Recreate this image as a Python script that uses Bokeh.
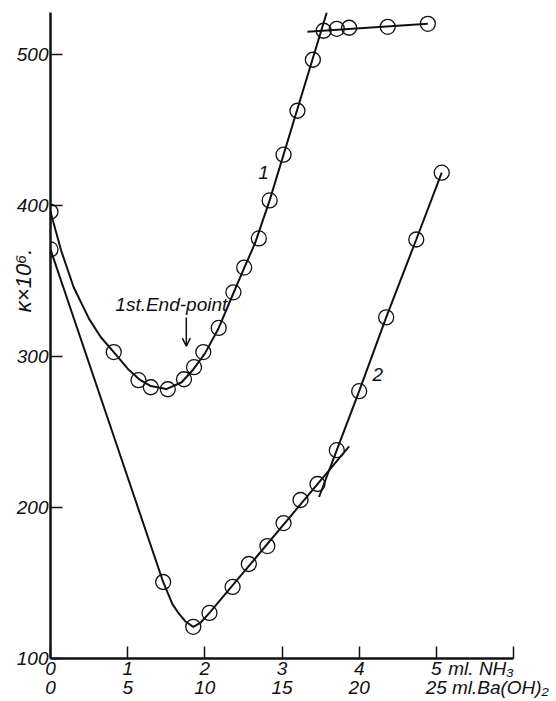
from bokeh.plotting import figure
from bokeh.models import Range1d, LinearAxis, FixedTicker, Label, Arrow, OpenHead
from bokeh.embed import file_html
from bokeh.resources import INLINE

# ---- data (x in ml NH3; 1 ml NH3 = 5 ml Ba(OH)2) ----
nh3_1 = [0.0, 0.82, 1.14, 1.30, 1.52, 1.73, 1.86, 1.98, 2.18, 2.37, 2.51, 2.70,
         2.84, 3.02, 3.20, 3.40, 3.54, 3.71, 3.87, 4.37, 4.89]
kappa_1 = [396, 303, 284.4, 279.7, 278.4, 285, 293, 303, 319, 342.6, 359, 378.3,
           403.5, 433.8, 462.9, 496.7, 515.9, 517.2, 517.9, 518.5, 520.5]

nh3_2 = [0.0, 1.46, 1.85, 2.06, 2.36, 2.57, 2.81, 3.02, 3.24, 3.46, 3.71, 4.00,
         4.35, 4.74, 5.07]
kappa_2 = [371, 150.7, 121.0, 130.2, 147.4, 162.6, 174.5, 189.7, 205.0, 215.6,
           238.0, 277.1, 326.0, 377.6, 421.9]

# drawn curves
curve1_x = [0.0, 0.14, 0.30, 0.50, 0.65, 0.82, 1.00, 1.15, 1.30, 1.50, 1.70,
            1.85, 2.00, 2.18, 2.37, 2.52, 2.65, 2.84, 3.58]
curve1_y = [396, 370, 346, 325, 313, 303, 292, 285, 280.5, 278.5, 283,
            291.5, 302, 319, 342, 360, 375, 403.5, 528]
plateau_x = [3.33, 4.89]
plateau_y = [515.2, 520.5]

curve2_x = [0.0, 1.10, 1.46, 1.58, 1.66, 1.75, 1.85, 1.95, 2.06, 3.87]
curve2_y = [371, 205, 150.7, 136, 130, 124.5, 121.0, 124, 130.2, 240.5]
curve2b_x = [3.48, 3.71, 4.00, 4.35, 4.74, 5.07]
curve2b_y = [207, 238.0, 277.1, 326.0, 377.6, 421.9]

nh3_tick_marks = [0, 1, 2, 3, 4, 5, 6]
nh3_labels = [0, 1, 2, 3, 4, 5]
ba_labels = [0, 5, 10, 15, 20, 25]
kappa_ticks = [100, 200, 300, 400, 500]
nh3_unit, nh3_unit_pos = "ml. NH₃", 5.58
ba_unit, ba_unit_pos = "ml.Ba(OH)₂", 29.15
kappa_title, kappa_title_pos = "κ×10⁶.", 350.5

FONT = "Liberation Sans"
INK = "#111111"
FS = "19px"

p = figure(width=554, height=700, output_backend="svg", toolbar_location=None,
           x_range=Range1d(0, 6.0), y_range=Range1d(100, 528),
           min_border_left=50, min_border_right=41, min_border_top=12,
           min_border_bottom=41)
p.outline_line_color = None
p.xgrid.visible = False
p.ygrid.visible = False
p.background_fill_color = "white"


def style_labels(ax, size=FS):
    ax.major_label_text_font = FONT
    ax.major_label_text_font_style = "italic"
    ax.major_label_text_font_size = size
    ax.major_label_text_color = INK


def bare(ax):
    ax.axis_line_color = None
    ax.major_tick_line_color = None
    ax.minor_tick_line_color = None
    ax.major_tick_in = 0
    ax.major_tick_out = 0


# y axis
ya = p.yaxis[0]
ya.ticker = FixedTicker(ticks=kappa_ticks)
ya.axis_line_color = INK
ya.axis_line_width = 2.5
ya.major_tick_in = 12
ya.major_tick_out = 0
ya.major_tick_line_width = 1.5
ya.major_tick_line_color = INK
ya.minor_tick_line_color = None
ya.major_label_standoff = 2
style_labels(ya)

# rotated y title, carried by a bare axis
yt = LinearAxis(ticker=FixedTicker(ticks=[kappa_title_pos]),
                major_label_overrides={kappa_title_pos: kappa_title},
                major_label_orientation="vertical", major_label_standoff=-23)
bare(yt)
style_labels(yt, size="22px")
p.add_layout(yt, "left")

# x axis (ml NH3): line, tick marks (as minor ticks) and first label row
xa = p.xaxis[0]
xa.ticker = FixedTicker(ticks=nh3_labels + [nh3_unit_pos], minor_ticks=nh3_tick_marks)
xa.major_label_overrides = {nh3_unit_pos: nh3_unit}
xa.axis_line_color = INK
xa.axis_line_width = 2.5
xa.major_tick_line_color = None
xa.major_tick_in = 0
xa.major_tick_out = 0
xa.minor_tick_in = 12
xa.minor_tick_out = 0
xa.minor_tick_line_width = 1.5
xa.minor_tick_line_color = INK
xa.major_label_standoff = -1
style_labels(xa)

# second label row (ml Ba(OH)2)
p.extra_x_ranges = {"ba": Range1d(0, 30)}
xr2 = LinearAxis(x_range_name="ba",
                 ticker=FixedTicker(ticks=ba_labels + [ba_unit_pos]),
                 major_label_overrides={ba_unit_pos: ba_unit},
                 major_label_standoff=-5)
bare(xr2)
style_labels(xr2)
p.add_layout(xr2, "below")

# curves
p.line(curve1_x, curve1_y, line_color=INK, line_width=2)
p.line(plateau_x, plateau_y, line_color=INK, line_width=2)
p.line(curve2_x, curve2_y, line_color=INK, line_width=2)
p.line(curve2b_x, curve2b_y, line_color=INK, line_width=2)

# points
p.scatter(nh3_1, kappa_1, marker="circle", size=15, fill_color=None,
          line_color=INK, line_width=1.3)
p.scatter(nh3_2, kappa_2, marker="circle", size=15, fill_color=None,
          line_color=INK, line_width=1.3)


def lab(x, y, text, align="left"):
    p.add_layout(Label(x=x, y=y, text=text, text_font=FONT, text_font_style="italic",
                       text_font_size=FS, text_color=INK, text_align=align,
                       text_baseline="middle"))


lab(2.76, 422, "1", align="center")
lab(4.24, 288, "2", align="center")
lab(0.84, 334.6, "1st.End-point")

p.add_layout(Arrow(end=OpenHead(size=8, line_width=1.5, line_color=INK),
                   x_start=1.76, y_start=326, x_end=1.76, y_end=307,
                   line_width=1.5, line_color=INK))

open("out.html", "w").write(file_html(p, INLINE))
